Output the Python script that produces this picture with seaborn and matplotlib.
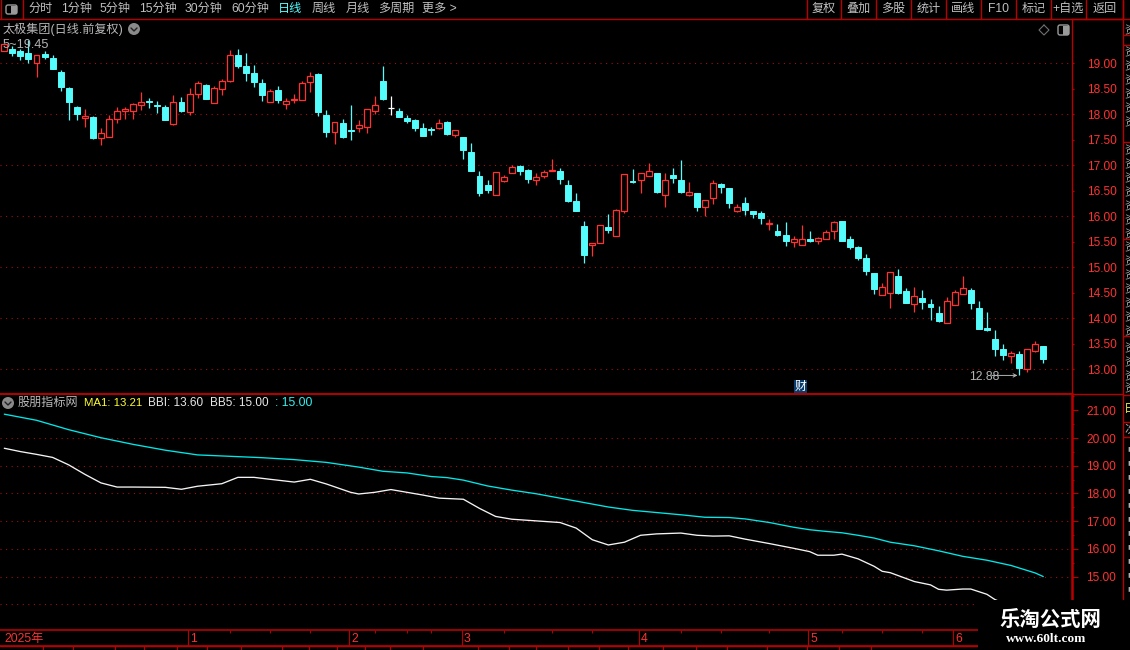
import pandas as pd
import matplotlib
matplotlib.use('Agg')
import matplotlib.pyplot as plt
from matplotlib.patches import Circle, Rectangle, FancyBboxPatch
import seaborn as sns

# Daily prices, one value per candle
opens = [
    19.25, 19.29, 19.25, 19.20, 19.01, 19.18, 19.10, 18.83, 18.51, 18.14,
    17.92, 17.95, 17.53, 17.56, 17.90, 18.06, 18.07, 18.19, 18.26, 18.18,
    18.14, 17.81, 18.25, 18.05, 18.39, 18.58, 18.23, 18.50, 18.66, 19.16,
    18.95, 18.81, 18.61, 18.25, 18.48, 18.21, 18.28, 18.29, 18.63, 18.79,
    17.99, 17.65, 17.83, 17.69, 17.74, 17.76, 18.06, 18.65, 18.12, 18.07,
    17.93, 17.89, 17.73, 17.71, 17.73, 17.85, 17.60, 17.56, 17.26, 16.79,
    16.61, 16.42, 16.70, 16.84, 16.99, 16.91, 16.72, 16.80, 16.88, 16.89,
    16.61, 16.30, 15.81, 15.44, 15.48, 15.79, 15.62, 16.11, 16.69, 16.72,
    16.80, 16.85, 16.42, 16.81, 16.71, 16.42, 16.46, 16.19, 16.35, 16.63,
    16.55, 16.10, 16.26, 16.10, 16.06, 15.85, 15.71, 15.63, 15.50, 15.44,
    15.55, 15.51, 15.56, 15.71, 15.91, 15.56, 15.40, 15.18, 14.89, 14.46,
    14.50, 14.83, 14.54, 14.29, 14.40, 14.28, 14.10, 13.90, 14.27, 14.48,
    14.56, 14.20, 13.81, 13.59, 13.40, 13.27, 13.30, 13.01, 13.35, 13.46,
]
highs = [
    19.38, 19.34, 19.29, 19.45, 19.16, 19.24, 19.16, 18.86, 18.53, 18.16,
    18.10, 17.96, 17.73, 17.99, 18.14, 18.14, 18.23, 18.43, 18.31, 18.26,
    18.18, 18.38, 18.33, 18.51, 18.65, 18.59, 18.56, 18.69, 19.26, 19.28,
    19.20, 18.97, 18.69, 18.49, 18.56, 18.31, 18.40, 18.65, 18.83, 18.81,
    18.09, 17.84, 17.91, 18.18, 17.88, 18.10, 18.36, 18.95, 18.36, 18.12,
    17.99, 17.91, 17.83, 17.75, 17.91, 17.87, 17.69, 17.56, 17.44, 16.89,
    16.71, 16.86, 16.81, 17.00, 17.00, 16.93, 16.85, 16.91, 17.12, 16.95,
    16.71, 16.46, 15.91, 15.48, 15.82, 16.05, 16.14, 16.82, 16.93, 16.84,
    17.05, 16.85, 16.85, 16.95, 17.10, 16.67, 16.46, 16.31, 16.71, 16.65,
    16.55, 16.24, 16.38, 16.10, 16.10, 15.95, 15.85, 15.89, 15.61, 15.83,
    15.71, 15.59, 15.73, 15.90, 15.91, 15.61, 15.42, 15.26, 14.89, 14.69,
    14.90, 14.97, 14.59, 14.61, 14.56, 14.38, 14.25, 14.41, 14.56, 14.83,
    14.59, 14.34, 14.12, 13.77, 13.50, 13.36, 13.36, 13.39, 13.56, 13.46,
]
lows = [
    19.25, 19.15, 19.07, 19.01, 18.74, 19.08, 18.88, 18.46, 17.88, 17.89,
    17.75, 17.52, 17.39, 17.55, 17.83, 17.91, 17.91, 18.09, 18.12, 18.03,
    17.89, 17.80, 18.04, 17.99, 18.32, 18.30, 18.23, 18.38, 18.64, 18.91,
    18.65, 18.54, 18.26, 18.25, 18.22, 18.10, 18.22, 18.28, 18.44, 17.97,
    17.56, 17.42, 17.54, 17.50, 17.65, 17.63, 18.00, 18.28, 17.99, 17.95,
    17.83, 17.67, 17.57, 17.59, 17.71, 17.59, 17.56, 17.12, 16.89, 16.40,
    16.46, 16.42, 16.67, 16.84, 16.81, 16.65, 16.61, 16.75, 16.88, 16.63,
    16.28, 16.10, 15.08, 15.22, 15.48, 15.67, 15.62, 16.07, 16.65, 16.46,
    16.80, 16.46, 16.18, 16.65, 16.46, 16.40, 16.10, 16.01, 16.24, 16.46,
    16.16, 16.08, 16.03, 15.97, 15.85, 15.73, 15.61, 15.42, 15.40, 15.44,
    15.50, 15.46, 15.56, 15.55, 15.52, 15.36, 15.14, 14.85, 14.48, 14.46,
    14.20, 14.47, 14.30, 14.12, 14.18, 13.97, 13.93, 13.90, 14.27, 14.48,
    14.18, 13.79, 13.75, 13.26, 13.18, 13.12, 12.88, 12.95, 13.33, 13.12,
]
closes = [
    19.38, 19.21, 19.15, 19.09, 19.16, 19.13, 18.88, 18.54, 18.25, 18.01,
    17.96, 17.54, 17.63, 17.90, 18.06, 18.10, 18.20, 18.25, 18.24, 18.17,
    17.89, 18.25, 18.06, 18.39, 18.61, 18.30, 18.51, 18.65, 19.16, 18.95,
    18.81, 18.63, 18.38, 18.45, 18.28, 18.27, 18.29, 18.61, 18.75, 18.05,
    17.65, 17.84, 17.56, 17.68, 17.80, 18.10, 18.18, 18.30, 18.12, 17.95,
    17.87, 17.73, 17.57, 17.70, 17.82, 17.61, 17.69, 17.30, 16.89, 16.46,
    16.52, 16.86, 16.78, 16.96, 16.89, 16.73, 16.78, 16.86, 16.91, 16.73,
    16.30, 16.10, 15.24, 15.48, 15.82, 15.73, 16.12, 16.82, 16.68, 16.84,
    16.88, 16.48, 16.72, 16.75, 16.48, 16.47, 16.18, 16.31, 16.65, 16.57,
    16.26, 16.18, 16.12, 16.05, 15.97, 15.86, 15.63, 15.52, 15.55, 15.55,
    15.52, 15.57, 15.69, 15.88, 15.52, 15.40, 15.18, 14.93, 14.57, 14.61,
    14.90, 14.49, 14.30, 14.43, 14.32, 14.22, 13.95, 14.33, 14.51, 14.59,
    14.30, 13.79, 13.78, 13.40, 13.28, 13.31, 13.03, 13.39, 13.49, 13.21,
]

# Indicator lines, read at the candle numbers listed next to them
bbi_days = [
    0, 2, 4, 6, 8, 10, 12, 14, 16, 20, 22, 24, 27, 29, 31, 33, 36, 38, 40, 43, 44, 46, 48,
    50, 52, 54, 57, 59, 61, 63, 66, 69, 71, 73, 75, 77, 79, 81, 84, 86, 88, 90, 92, 95, 98,
    100, 101, 103, 104, 106, 108, 109, 110, 113, 115, 116, 117, 119, 120, 122, 123, 124,
]
bbi_vals = [
    19.63, 19.51, 19.41, 19.30, 19.03, 18.69, 18.38, 18.23, 18.23, 18.22, 18.15, 18.26,
    18.35, 18.58, 18.58, 18.51, 18.41, 18.51, 18.34, 18.04, 17.98, 18.04, 18.14,
    18.04, 17.94, 17.83, 17.79, 17.46, 17.17, 17.07, 17.01, 16.95, 16.75, 16.33, 16.14,
    16.24, 16.49, 16.54, 16.57, 16.49, 16.46, 16.47, 16.35, 16.19, 16.02,
    15.90, 15.77, 15.77, 15.81, 15.64, 15.37, 15.19, 15.14, 14.82, 14.70, 14.54, 14.51,
    14.55, 14.55, 14.36, 14.17, 14.05,
]
bb5_days = [
    0, 4, 8, 12, 16, 20, 24, 28, 32, 36, 40, 44, 47, 50, 53, 55, 57, 60, 63, 66, 69, 72,
    75, 78, 81, 84, 87, 90, 92, 95, 98, 100, 102, 104, 106, 108, 110, 113, 116, 119, 122,
    125, 128, 129,
]
bb5_vals = [
    20.86, 20.64, 20.30, 20.01, 19.77, 19.56, 19.39, 19.34, 19.29, 19.22, 19.12, 18.95,
    18.80, 18.74, 18.61, 18.57, 18.48, 18.27, 18.12, 17.99, 17.83, 17.67, 17.51, 17.39,
    17.31, 17.23, 17.14, 17.13, 17.08, 16.95, 16.78, 16.69, 16.63, 16.58, 16.49, 16.39,
    16.24, 16.11, 15.93, 15.73, 15.59, 15.40, 15.13, 15.00,
]

price_ticks = [13.0, 13.5, 14.0, 14.5, 15.0, 15.5, 16.0, 16.5, 17.0, 17.5, 18.0, 18.5, 19.0]
price_grid = [13, 14, 15, 16, 17, 18, 19]
ind_ticks = [15, 16, 17, 18, 19, 20, 21]
ind_grid = [14, 15, 16, 17, 18, 19, 20]
month_days = [23, 43, 57, 79, 100, 118]
month_names = ['1', '2', '3', '4', '5', '6']
week_days = [28, 33, 38, 46, 50, 53, 62, 68, 73, 84, 89, 95, 104, 109, 114]

menu_items = ['分时', '1分钟', '5分钟', '15分钟', '30分钟', '60分钟', '日线', '周线', '月线', '多周期', '更多 >']
menu_x = [28, 61, 100, 139, 185, 231, 278, 312, 346, 378, 422]
button_items = ['复权', '叠加', '多股', '统计', '画线', 'F10', '标记', '+自选', '返回']
button_edges = [807, 841, 876, 911, 946, 981, 1016, 1051, 1086, 1123]
tab_edges = [43, 73, 115, 144, 177, 207, 241, 282, 309, 337, 365, 390, 423, 478, 509,
             536, 568, 599, 628, 663, 696, 727, 767, 807, 839, 871]

RED = '#ff3232'
AXIS = '#b80000'
GRID = '#a01010'
CYAN = '#54fcfc'
GREY = '#c0c0c0'
W, H = 1130, 650

sns.set_theme(style='dark', rc={'axes.facecolor': 'black', 'figure.facecolor': 'black',
                                'axes.grid': False})
plt.rcParams['font.family'] = ['Liberation Sans', 'Noto Sans CJK SC', 'DejaVu Sans']

df = pd.DataFrame({'day': range(len(opens)), 'open': opens, 'high': highs, 'low': lows, 'close': closes})
df['top'] = df[['open', 'close']].max(axis=1)
df['bottom'] = df[['open', 'close']].min(axis=1)
df['body'] = (df['top'] - df['bottom']).clip(lower=0.02)

fig = plt.figure(figsize=(W / 100, H / 100), dpi=100)


def px_axes(x0, y0, x1, y1):
    # axes placed by its pixel box, y counted from the top of the image
    return fig.add_axes([x0 / W, 1 - y1 / H, (x1 - x0) / W, (y1 - y0) / H])


# same candle spacing in all panels
STEP = 8.054
day_min = -4.3 / STEP
day_max = (1072 - 4.3) / STEP

# Price panel
ax = px_axes(0, 19.3, 1072, 394.3)
ups = df[df['close'] > df['open']]
downs = df[df['close'] < df['open']]
flats = df[df['close'] == df['open']]

ax.vlines(ups['day'], ups['low'], ups['high'], color=RED, lw=0.9, zorder=1)
ax.vlines(downs['day'], downs['low'], downs['high'], color=CYAN, lw=0.9, zorder=1)
ax.vlines(flats['day'], flats['low'], flats['high'], color='white', lw=0.9, zorder=1)
ax.hlines(flats['close'], flats['day'] - 0.38, flats['day'] + 0.38, color='white', lw=0.9, zorder=3)

sns.barplot(x=ups['day'].values, y=ups['body'].values, bottom=ups['bottom'].values, ax=ax,
            native_scale=True, width=0.74, color='black', saturation=1, edgecolor=RED,
            linewidth=0.9, errorbar=None, zorder=3)
sns.barplot(x=downs['day'].values, y=downs['body'].values, bottom=downs['bottom'].values, ax=ax,
            native_scale=True, width=0.74, color=CYAN, saturation=1, edgecolor=CYAN,
            linewidth=0.7, errorbar=None, zorder=3)

for v in price_grid:
    ax.axhline(v, color=GRID, lw=0.8, ls=(0, (1, 4)), zorder=0)
ax.set_xlim(day_min, day_max)
ax.set_ylim(19 - (394.3 - 63.3) / 51, 19 + (63.3 - 19.3) / 51)
ax.set_xlabel('')
ax.set_ylabel('')
ax.set_xticks([])
ax.yaxis.tick_right()
ax.set_yticks(price_ticks)
ax.set_yticklabels(['%.2f' % v for v in price_ticks])
ax.set_yticks(price_grid, minor=True)
ax.tick_params(axis='y', which='major', length=1.5, width=0.8, color=AXIS, labelcolor=RED,
               labelsize=8.6, pad=9.3)
ax.tick_params(axis='y', which='minor', length=4.3, width=0.8, color=AXIS)
for name in ['top', 'bottom', 'left']:
    ax.spines[name].set_visible(False)
ax.spines['right'].set_color(AXIS)
ax.spines['right'].set_linewidth(1)

ax.text(119.8, 12.85, '12.88', color='#b4b4b4', fontsize=8.8, va='center', ha='left')
ax.annotate('', xy=(125.8, 12.88), xytext=(122.6, 12.88),
            arrowprops=dict(arrowstyle='->', color='#b4b4b4', lw=0.7, mutation_scale=6,
                            shrinkA=0, shrinkB=0))
ax.text(-0.2, 19.36, '5~19.45', color='#b4b4b4', fontsize=9.2, va='center', ha='left', zorder=5)

# Indicator panel
ax2 = px_axes(0, 394.3, 1072, 630)
sns.lineplot(x=bb5_days, y=bb5_vals, ax=ax2, color='#00e8e8', lw=0.95, errorbar=None)
sns.lineplot(x=bbi_days, y=bbi_vals, ax=ax2, color='#f4f4f4', lw=0.95, errorbar=None)
for v in ind_grid:
    ax2.axhline(v, color=GRID, lw=0.8, ls=(0, (1, 4)), zorder=0)
ax2.set_xlim(day_min, day_max)
ax2.set_ylim(21 - (630 - 410.3) / 27.71, 21 + (410.3 - 394.3) / 27.71)
ax2.set_xlabel('')
ax2.set_ylabel('')
ax2.set_xticks([])
ax2.yaxis.tick_right()
ax2.set_yticks(ind_ticks)
ax2.set_yticklabels(['%.2f' % v for v in ind_ticks])
ax2.set_yticks([v + 0.5 for v in ind_ticks], minor=True)
ax2.tick_params(axis='y', which='major', length=4.3, width=0.8, color=AXIS, labelcolor=RED,
                labelsize=8.6, pad=6)
ax2.tick_params(axis='y', which='minor', length=1.5, width=0.8, color=AXIS)
for name in ['bottom', 'left']:
    ax2.spines[name].set_visible(False)
ax2.spines['right'].set_color(AXIS)
ax2.spines['right'].set_linewidth(1.8)
ax2.spines['top'].set_color(AXIS)
ax2.spines['top'].set_linewidth(1.4)

# Date band
ax3 = px_axes(0, 630, 978, 646)
ax3.set_xlim(day_min, (978 - 4.3) / STEP)
ax3.set_ylim(0, 1)
ax3.set_yticks([])
ax3.set_xticks(week_days)
ax3.set_xticklabels([])
ax3.tick_params(axis='x', direction='in', top=True, bottom=False, length=2.2, width=0.7, color=AXIS)
for d, name in zip(month_days, month_names):
    ax3.axvline(d - 0.2, color=AXIS, lw=0.8)
    ax3.text(d + 0.05, 0.45, name, color=RED, fontsize=8.8, va='center', ha='left')
ax3.text(0.03, 0.45, '2025年', color=RED, fontsize=8.8, va='center', ha='left')
for name in ['left', 'right']:
    ax3.spines[name].set_visible(False)
for name in ['top', 'bottom']:
    ax3.spines[name].set_color(AXIS)
    ax3.spines[name].set_linewidth(1.2)

# Window chrome drawn over the panels, in image pixels
top = fig.add_axes([0, 0, 1, 1])
top.set_xlim(0, W)
top.set_ylim(H, 0)
top.axis('off')
top.patch.set_alpha(0)


def label(x, y, s, color=GREY, size=8.7, ha='left', **kw):
    top.text(x, y, s, color=color, fontsize=size, ha=ha, va='center', **kw)


top.plot([0, 1123], [19.3, 19.3], color=AXIS, lw=1)
top.plot([1072, 1130], [19.3, 19.3], color=AXIS, lw=1)
top.plot([23, 23], [0, 19], color=AXIS, lw=1)
top.plot([0.5, 0.5], [0, 19], color=AXIS, lw=1)
top.add_patch(FancyBboxPatch((6, 5), 11, 9, boxstyle='round,pad=0,rounding_size=2',
                             fc='black', ec='#9a9a9a', lw=1))
top.add_patch(Rectangle((10.5, 5.5), 6, 8, fc='#9a9a9a', ec='none'))

for x, s in zip(menu_x, menu_items):
    label(x, 9, s, color=CYAN if s == '日线' else GREY)
for i, s in enumerate(button_items):
    label((button_edges[i] + button_edges[i + 1]) / 2, 9, s, ha='center')
for x in button_edges:
    top.plot([x, x], [0, 19], color=AXIS, lw=1)

label(3, 29, '太极集团(日线.前复权)', color='#b8b8b8')
top.add_patch(Circle((134, 29), 6, fc='#8a8a8a', ec='none'))
top.plot([131, 134, 137], [28, 31, 28], color='#222222', lw=1)
top.plot([1044, 1049, 1044, 1039, 1044], [25, 30, 35, 30, 25], color='#707070', lw=0.8)
top.add_patch(FancyBboxPatch((1058, 25), 11, 10, boxstyle='round,pad=0,rounding_size=2',
                             fc='black', ec='#9a9a9a', lw=1))
top.add_patch(Rectangle((1063, 25.5), 5.5, 9, fc='#9a9a9a', ec='none'))

# finance flag
top.add_patch(Rectangle((794, 380), 13, 13, fc='#0a3c6e', ec='none'))
label(800.5, 386.5, '财', color='white', size=8.6, ha='center')

# indicator legend
top.add_patch(Circle((8, 403), 6, fc='#8a8a8a', ec='none'))
top.plot([5, 8, 11], [402, 405, 402], color='#222222', lw=1)
label(18, 403, '股朋指标网', color='#b8b8b8')
label(84, 403, 'MA1: 13.21', color='#ffff30', size=8.2)
label(148, 403, 'BBI: 13.60', color='#e8e8e8', size=8.5)
label(210, 403, 'BB5: 15.00', color='#e8e8e8', size=8.5)
label(275, 403, ': 15.00', color='#30f0f0', size=8.8)

# right hand column, only the left edge of its text shows
top.plot([1123.3, 1123.3], [0, 600], color=AXIS, lw=1)
top.plot([1072, 1123], [394, 394], color=AXIS, lw=1)
for y in [35, 45, 142, 239, 336, 395, 422, 437]:
    top.plot([1123, 1130], [y, y], color=AXIS, lw=1)

side = px_axes(1124, 20, 1130, 600)
side.axis('off')
side.set_xlim(1124, 1130)
side.set_ylim(600, 20)
for y in [30] + list(range(52, 136, 14)) + list(range(150, 235, 14)) + list(range(247, 332, 14)) + [348, 362, 376, 388]:
    side.text(1130, y, '资', color='#a8a8a8', fontsize=8.6, ha='center', va='center', clip_on=True)
side.text(1130, 409, '日', color='#e8e850', fontsize=8.6, ha='center', va='center', clip_on=True)
side.text(1130, 430, '次', color='#a8a8a8', fontsize=8.6, ha='center', va='center', clip_on=True)
for y in range(448, 596, 14):
    side.text(1130, y, '■', color='#b0b0b0', fontsize=7, ha='center', va='center', clip_on=True)

# bottom row under the date band
top.plot([0, 978], [646, 646], color=AXIS, lw=1)
for x in tab_edges:
    top.plot([x, x], [646, 650], color=AXIS, lw=0.8)

# watermark block
wm = fig.add_axes([0, 0, 1, 1])
wm.set_xlim(0, W)
wm.set_ylim(H, 0)
wm.axis('off')
wm.patch.set_alpha(0)
wm.add_patch(Rectangle((978, 600), 152, 50, fc='black', ec='none', zorder=1))
wm.text(1050, 619, '乐淘公式网', color='white', fontsize=14.7, fontweight='bold', ha='center',
        va='center', family=['Noto Sans CJK SC'], zorder=2)
wm.text(1046, 639, 'www.60lt.com', color='white', fontsize=9.6, fontweight='bold', ha='center',
        va='center', family=['Liberation Serif'], zorder=2)

fig.savefig('out.png', dpi=100, facecolor='black')
